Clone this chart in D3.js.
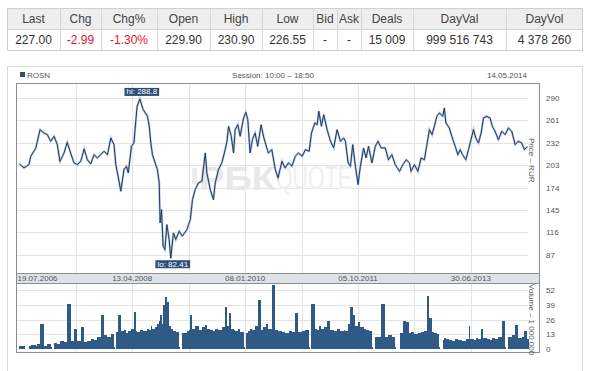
<!DOCTYPE html>
<html>
<head>
<meta charset="utf-8">
<script src="https://cdnjs.cloudflare.com/ajax/libs/d3/7.8.5/d3.min.js"></script>
<style>
body{margin:0;background:#fff;}
svg{display:block;font-family:"Liberation Sans",Arial,sans-serif;}
</style>
</head>
<body>
<script>
// quote table
var quoteHeaders = ["Last","Chg","Chg%","Open","High","Low","Bid","Ask","Deals","DayVal","DayVol"];
var quoteValues = ["227.00","-2.99","-1.30%","229.90","230.90","226.55","-","-","15 009","999 516 743","4 378 260"];

var ticker = "ROSN",
    session = "Session: 10:00 \u2013 18:50",
    quoteDate = "14.05.2014";

// price history
var dates = ["2006-07-19","2006-08-14","2006-09-11","2006-09-21","2006-10-19","2006-10-28","2006-11-12","2006-12-04","2006-12-23","2007-01-11",
  "2007-01-30","2007-02-17","2007-03-04","2007-03-27","2007-04-14","2007-05-03","2007-05-22","2007-06-10","2007-06-29","2007-07-18",
  "2007-08-05","2007-08-24","2007-09-12","2007-09-30","2007-10-19","2007-11-07","2007-11-26","2007-12-15","2008-01-02","2008-01-12",
  "2008-01-25","2008-02-09","2008-02-27","2008-03-12","2008-03-22","2008-04-09","2008-04-23","2008-05-04","2008-05-11","2008-05-26",
  "2008-06-14","2008-07-08","2008-07-18","2008-07-27","2008-08-05","2008-08-20","2008-09-02","2008-09-12","2008-09-17","2008-09-25",
  "2008-10-04","2008-10-14","2008-10-25","2008-11-07","2008-11-16","2008-12-01","2008-12-14","2009-01-02","2009-01-20","2009-02-15",
  "2009-02-24","2009-03-06","2009-03-18","2009-04-02","2009-04-21","2009-05-10","2009-05-29","2009-06-07","2009-06-26","2009-07-14",
  "2009-07-24","2009-08-11","2009-08-30","2009-09-18","2009-09-28","2009-10-07","2009-10-22","2009-11-04","2009-11-13","2009-11-28",
  "2009-12-11","2009-12-30","2010-01-12","2010-01-23","2010-02-05","2010-02-18","2010-03-05","2010-03-20","2010-04-08","2010-04-21",
  "2010-05-04","2010-05-19","2010-06-07","2010-06-26","2010-07-12","2010-08-03","2010-08-21","2010-09-09","2010-09-28","2010-10-17",
  "2010-11-04","2010-11-25","2010-12-13","2011-01-03","2011-01-16","2011-02-04","2011-02-17","2011-02-26","2011-03-13","2011-03-26",
  "2011-04-14","2011-05-03","2011-05-21","2011-06-09","2011-06-28","2011-07-16","2011-07-26","2011-08-10","2011-08-23","2011-09-05",
  "2011-09-20","2011-10-05","2011-10-18","2011-11-05","2011-11-19","2011-12-03","2011-12-22","2012-01-10","2012-01-25","2012-02-12",
  "2012-03-06","2012-03-24","2012-04-12","2012-05-01","2012-05-25","2012-06-13","2012-07-02","2012-07-20","2012-07-29","2012-08-17",
  "2012-09-05","2012-09-24","2012-10-12","2012-10-26","2012-11-09","2012-11-24","2012-12-07","2012-12-21","2013-01-04","2013-01-23",
  "2013-02-01","2013-02-10","2013-03-01","2013-03-15","2013-04-03","2013-04-18","2013-05-01","2013-05-14","2013-06-02","2013-06-17",
  "2013-06-26","2013-07-15","2013-07-28","2013-08-12","2013-08-27","2013-09-09","2013-09-28","2013-10-16","2013-10-29","2013-11-13",
  "2013-12-02","2013-12-21","2014-01-09","2014-01-27","2014-02-15","2014-03-06","2014-03-24","2014-04-12","2014-04-27","2014-05-14"];

var closes = [204.6,199.4,203.7,214.5,225,234,249,244.7,242.5,234,
  240.4,229.6,208,218.8,232.6,218.8,205.9,203.7,208,224,
  210,204.6,216.6,212.3,216.6,221,216.6,238.2,229.6,203.7,
  188.6,169.2,197.2,201.6,192.9,227.5,231.7,262,279.3,288.8,
  274.9,266.3,253.4,231.7,216.6,205.9,197.2,180,128.2,145.4,
  98,93.6,126,106.6,82.41,115.2,106.6,117.4,111,119.5,
  126,132.5,158.3,171.3,180,182.2,218.8,192.9,171.3,158.3,
  180,197.2,205.9,223.1,234,253.4,240.4,218.8,249,255.5,
  240.4,264.1,271.5,262,218.8,236.1,244.7,227.5,255.5,240.4,
  229.6,218.8,223.1,198,186.4,208,199.4,205.9,201.6,214.5,
  218.8,214.5,223.1,221,244.7,257.6,255.5,272.8,253.4,268.4,
  249,234,225.3,249,234,238.2,234,205.9,201.6,229.6,
  201.6,177.8,201.6,225.3,212.3,227.5,205.9,227.5,234,225.3,
  225.3,210,216.6,203.7,195,203.7,210,205.9,195,203.7,
  195,212.3,210,229.6,249,242.5,253.4,266.3,270.6,266.3,
  277.1,257.6,251.2,240.4,227.5,216.6,223.1,216.6,210,223.1,
  231.7,249,238.2,231.7,244.7,264.1,266.3,264.1,253.4,246.9,
  236.1,246.9,242.5,251.2,246.9,229.6,234,231.7,223.1,227];

// volume, millions of shares
var volumes = [3,2.5,3,3.5,3,4,22,3,4,1.5,
  5,4,7,6,40,7,18,7,19,6,
  7,9,8,11,30,12,11,13,1.5,15,
  30,16,17,14,16,18,33,16,15,17,
  16,18,17,20,18,19,22,25,30,22,
  39,46,41,20,18,16,15,2,14,16,
  17,30,18,20,17,19,21,18,17,16,
  18,17,19,37,20,32,18,17,16,18,
  15,2,14,16,18,17,20,43,17,19,
  22,18,56,17,16,15,14,16,15,32,
  15,16,17,2,40,18,17,20,18,19,
  25,17,16,18,16,17,16,22,37,30,
  20,24,19,18,17,16,2,11,11,40,
  11,12,11,2,14,25,24,14,15,13,
  14,15,16,47,27,15,14,13,2,8,
  10,9,8,7,9,8,8,7,9,20,
  9,8,10,9,18,10,9,8,10,9,
  11,25,2,11,12,21,10,11,16,9];

var priceTicks = [87,116,145,174,203,232,261,290];
var volumeTicks = [0,13,26,39,52];
var gridDates = ["2006-07-19","2007-06-01","2008-04-13","2009-02-24","2010-01-08","2010-11-21","2011-10-05","2012-08-17","2013-06-30"];

var priceLabel = "Price \u2013 RUR",
    volumeLabel = "Volume \u2013 1 000 000";

var parse = d3.timeParse("%Y-%m-%d"),
    fmt = d3.timeFormat("%d.%m.%Y");

var data = dates.map(function(d, i) {
  return {date: parse(d), close: closes[i], vol: volumes[i]};
});

var width = 591, height = 371;

var svg = d3.select("body").append("svg")
    .attr("width", width)
    .attr("height", height);

//---------- quote table ----------
var colEdges = [7,60,101,157,210,262,313,337,361,413,506,583];
var tbl = svg.append("g");

tbl.append("rect")
    .attr("x", 7.5).attr("y", 8.5)
    .attr("width", 575).attr("height", 21)
    .attr("fill", "#eeeeee");

tbl.append("rect")
    .attr("x", 7.5).attr("y", 8.5)
    .attr("width", 575).attr("height", 42)
    .attr("fill", "none")
    .attr("stroke", "#cfcfcf");

tbl.append("line")
    .attr("x1", 7.5).attr("x2", 582.5)
    .attr("y1", 29.5).attr("y2", 29.5)
    .attr("stroke", "#d6d6d6");

tbl.selectAll(".sep")
    .data(colEdges.slice(1, -1))
    .enter().append("line")
    .attr("x1", function(d) { return d + 0.5; })
    .attr("x2", function(d) { return d + 0.5; })
    .attr("y1", 8.5).attr("y2", 50.5)
    .attr("stroke", "#d6d6d6");

tbl.selectAll(".hd")
    .data(quoteHeaders)
    .enter().append("text")
    .attr("x", function(d, i) { return (colEdges[i] + colEdges[i + 1]) / 2; })
    .attr("y", 23)
    .attr("text-anchor", "middle")
    .style("font-size", "12px")
    .style("fill", "#444")
    .text(function(d) { return d; });

tbl.selectAll(".val")
    .data(quoteValues)
    .enter().append("text")
    .attr("x", function(d, i) { return (colEdges[i] + colEdges[i + 1]) / 2; })
    .attr("y", 44)
    .attr("text-anchor", "middle")
    .style("font-size", "12px")
    .style("fill", function(d) { return d.charAt(0) == "-" && d.length > 1 ? "#e3162f" : "#333"; })
    .text(function(d) { return d; });

//---------- chart panel ----------
svg.append("rect")
    .attr("x", 7.5).attr("y", 66.5)
    .attr("width", 575).attr("height", 320)
    .attr("fill", "none")
    .attr("stroke", "#dadada");

var L = 16, R = 539, T = 83, B = 352, bandT = 273, bandB = 283, gridR = 528;

var x = d3.scaleTime()
    .domain([parse("2006-07-19"), parse("2014-05-14")])
    .range([19.4, 527.4]);

var yP = d3.scaleLinear()
    .domain([87, 290])
    .range([254.7, 98]);

var yV = d3.scaleLinear()
    .domain([0, 52])
    .range([349, 290]);

// header line
svg.append("rect")
    .attr("x", 20).attr("y", 72)
    .attr("width", 5).attr("height", 5)
    .attr("fill", "#2d4f77");

svg.append("text")
    .attr("x", 27).attr("y", 77.5)
    .style("font-size", "8px").style("fill", "#555")
    .text(ticker);

svg.append("text")
    .attr("x", 273).attr("y", 77.5)
    .attr("text-anchor", "middle")
    .style("font-size", "8px").style("fill", "#555")
    .text(session);

svg.append("text")
    .attr("x", 527).attr("y", 77.5)
    .attr("text-anchor", "end")
    .style("font-size", "8px").style("fill", "#555")
    .text(quoteDate);

// grid
var grid = svg.append("g").attr("stroke", "#e4e4e4");

grid.selectAll(".hp")
    .data(priceTicks)
    .enter().append("line")
    .attr("x1", L).attr("x2", gridR)
    .attr("y1", function(d) { return Math.round(yP(d)) + 0.5; })
    .attr("y2", function(d) { return Math.round(yP(d)) + 0.5; });

grid.selectAll(".hv")
    .data(volumeTicks.slice(1))
    .enter().append("line")
    .attr("x1", L).attr("x2", gridR)
    .attr("y1", function(d) { return Math.round(yV(d)) + 0.5; })
    .attr("y2", function(d) { return Math.round(yV(d)) + 0.5; });

grid.selectAll(".vt")
    .data(gridDates.slice(1))
    .enter().append("line")
    .attr("x1", function(d) { return Math.round(x(parse(d))) + 0.5; })
    .attr("x2", function(d) { return Math.round(x(parse(d))) + 0.5; })
    .attr("y1", T).attr("y2", B);

// watermark
svg.append("rect")
    .attr("x", 192).attr("y", 168)
    .attr("width", 5).attr("height", 16)
    .attr("fill", "#ececec");

svg.append("text")
    .attr("x", 199).attr("y", 190)
    .attr("textLength", 76).attr("lengthAdjust", "spacingAndGlyphs")
    .style("font-size", "34px").style("font-weight", "bold")
    .style("fill", "#e8e8e8")
    .text("\u0420\u0411\u041a");

svg.append("text")
    .attr("x", 276).attr("y", 189)
    .attr("textLength", 76).attr("lengthAdjust", "spacingAndGlyphs")
    .style("font-size", "33px")
    .style("fill", "#efefef")
    .text("QUOTE");

// volume bars - overlap a little so the base reads as one filled band
svg.append("g")
    .attr("shape-rendering", "crispEdges")
    .selectAll("rect")
    .data(data)
    .enter().append("rect")
    .attr("x", function(d) { return Math.round(x(d.date)); })
    .attr("width", function(d, i) {
      var nx = i < data.length - 1 ? x(data[i + 1].date) : x(d.date) + 1.5;
      if (d.vol < 3) return 1;
      return Math.max(1, Math.round(nx) - Math.round(x(d.date)));
    })
    .attr("y", function(d) { return yV(d.vol); })
    .attr("height", function(d) { return yV(0) - yV(d.vol); })
    .attr("fill", "#2f5a86");

// price line
var line = d3.line()
    .x(function(d) { return x(d.date); })
    .y(function(d) { return yP(d.close); });

svg.append("path")
    .datum(data)
    .attr("d", line)
    .attr("fill", "none")
    .attr("stroke", "#b3c4d7")
    .attr("stroke-width", 2.2);

svg.append("path")
    .datum(data)
    .attr("d", line)
    .attr("fill", "none")
    .attr("stroke", "#1f3c63")
    .attr("stroke-width", 1);

// hi / lo markers
var hi = data[d3.maxIndex(data, function(d) { return d.close; })],
    lo = data[d3.minIndex(data, function(d) { return d.close; })];

function marker(d, label, top) {
  var g = svg.append("g");
  var t = g.append("text")
      .attr("x", x(d.date) + 2)
      .attr("y", top + 6.5)
      .attr("text-anchor", "middle")
      .style("font-size", "8px")
      .style("fill", "#fff")
      .text(label);
  var w = t.node().getComputedTextLength() + 4;
  g.insert("rect", "text")
      .attr("x", x(d.date) + 2 - w / 2)
      .attr("y", top)
      .attr("width", w)
      .attr("height", 8)
      .attr("fill", "#2d4f77");
}
marker(hi, "hi: " + hi.close, yP(hi.close) - 11);
marker(lo, "lo: " + lo.close, yP(lo.close) + 2);

// date band
svg.append("rect")
    .attr("x", L + 0.5).attr("y", bandT + 0.5)
    .attr("width", R - L).attr("height", bandB - bandT)
    .attr("fill", "#dde2e8")
    .attr("stroke", "#8d8d8d");

svg.selectAll(".xl")
    .data(gridDates.filter(function(d, i) { return i % 2 == 0; }))
    .enter().append("text")
    .attr("x", function(d, i) { return i == 0 ? L + 1.5 : x(parse(d)); })
    .attr("y", 281)
    .attr("text-anchor", function(d, i) { return i == 0 ? "start" : "middle"; })
    .style("font-size", "8px").style("fill", "#555")
    .text(function(d) { return fmt(parse(d)); });

// plot frame
svg.append("rect")
    .attr("x", L + 0.5).attr("y", T + 0.5)
    .attr("width", R - L).attr("height", B - T)
    .attr("fill", "none")
    .attr("stroke", "#8d8d8d");

// axis labels
svg.selectAll(".yl")
    .data(priceTicks)
    .enter().append("text")
    .attr("x", 546).attr("y", function(d) { return yP(d) + 3; })
    .style("font-size", "8px").style("fill", "#555")
    .text(function(d) { return d; });

svg.selectAll(".vl")
    .data(volumeTicks)
    .enter().append("text")
    .attr("x", 546).attr("y", function(d) { return yV(d) + 3; })
    .style("font-size", "8px").style("fill", "#555")
    .text(function(d) { return d; });

svg.append("text")
    .attr("transform", "translate(529,138) rotate(90)")
    .style("font-size", "8px").style("fill", "#555")
    .text(priceLabel);

svg.append("text")
    .attr("transform", "translate(529,284) rotate(90)")
    .style("font-size", "8px").style("fill", "#555")
    .text(volumeLabel);
</script>
</body>
</html>
